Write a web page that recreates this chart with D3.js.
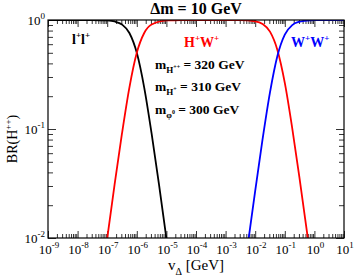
<!DOCTYPE html>
<html>
<head>
<meta charset="utf-8">
<script src="https://cdn.jsdelivr.net/npm/d3@7"></script>
<style>
  body { margin: 0; background: #fff; }
  svg { display: block; font-family: "Liberation Serif", "DejaVu Serif", serif; }
  .tick line { stroke: #000; }
</style>
</head>
<body>
<div id="graph"></div>
<script>
// v_Delta [GeV] vs BR
const llV  = [1e-9, 1e-8, 3.16e-8, 1e-7, 1.78e-7, 3.16e-7, 5.62e-7, 1e-6, 1.78e-6, 3.16e-6, 5.62e-6, 1e-5, 1.78e-5];
const llBR = [1.0, 1.0, 0.999, 0.99, 0.969, 0.909, 0.76, 0.5, 0.24, 0.091, 0.031, 0.0099, 0.0032];

const hwV  = [5.62e-8, 1e-7, 1.78e-7, 3.16e-7, 5.62e-7, 1e-6, 1.78e-6, 3.16e-6, 1e-5, 3.16e-5, 1e-4, 1e-3, 3.16e-3, 1e-2, 1.78e-2, 3.16e-2, 5.62e-2, 0.1, 0.178, 0.316, 0.562, 1];
const hwBR = [0.0032, 0.0099, 0.031, 0.091, 0.24, 0.5, 0.76, 0.909, 0.99, 0.999, 1.0, 1.0, 0.997, 0.973, 0.919, 0.783, 0.532, 0.265, 0.102, 0.035, 0.0113, 0.0036];

const wwV  = [3.16e-3, 5.62e-3, 1e-2, 1.78e-2, 3.16e-2, 5.62e-2, 0.1, 0.178, 0.316, 0.562, 1, 3.16, 10];
const wwBR = [0.0028, 0.0087, 0.027, 0.081, 0.217, 0.468, 0.735, 0.898, 0.965, 0.989, 0.996, 0.9996, 1.0];

const xExp = [-9, -8, -7, -6, -5, -4, -3, -2, -1, 0, 1];
const yExp = [-2, -1, 0];

const width = 354, height = 279;
const m = {left: 48, right: 10, top: 20, bottom: 41};

const x = d3.scaleLog().domain([1e-9, 10]).range([m.left, width - m.right]);
const y = d3.scaleLog().domain([0.01, 1]).range([height - m.bottom, m.top]);

const svg = d3.select('#graph').append('svg')
  .attr('width', width)
  .attr('height', height);

svg.append('clipPath').attr('id', 'clip')
  .append('rect')
  .attr('x', m.left).attr('y', m.top)
  .attr('width', width - m.left - m.right)
  .attr('height', height - m.top - m.bottom);

// minor tick positions
let minorX = [];
for (let e = -9; e < 1; e++) for (let k = 2; k < 10; k++) minorX.push(k * Math.pow(10, e));
let minorY = [];
for (let e = -2; e < 0; e++) for (let k = 2; k < 10; k++) minorY.push(k * Math.pow(10, e));
const majX = xExp.map(e => Math.pow(10, e));
const majY = yExp.map(e => Math.pow(10, e));

function addAxis(gen, tr) {
  const g = svg.append('g').attr('transform', tr).call(gen);
  g.select('.domain').remove();
  g.selectAll('text').remove();
  g.selectAll('line').attr('stroke-width', 0.8);
  return g;
}
const bottom = height - m.bottom, right = width - m.right;
addAxis(d3.axisBottom(x).tickValues(minorX).tickSize(-4), `translate(0,${bottom})`).selectAll('line').attr('stroke', '#555');
addAxis(d3.axisBottom(x).tickValues(majX).tickSize(-7), `translate(0,${bottom})`);
addAxis(d3.axisTop(x).tickValues(minorX).tickSize(-4), `translate(0,${m.top})`).selectAll('line').attr('stroke', '#555');
addAxis(d3.axisTop(x).tickValues(majX).tickSize(-7), `translate(0,${m.top})`);
addAxis(d3.axisLeft(y).tickValues(minorY).tickSize(-5), `translate(${m.left},0)`);
addAxis(d3.axisLeft(y).tickValues(majY).tickSize(-8), `translate(${m.left},0)`);
addAxis(d3.axisRight(y).tickValues(minorY).tickSize(-5), `translate(${right},0)`);
addAxis(d3.axisRight(y).tickValues(majY).tickSize(-8), `translate(${right},0)`);

// tick labels 10^n
svg.append('g').selectAll('text')
  .data(xExp).enter().append('text')
  .attr('x', d => x(Math.pow(10, d)) + 1)
  .attr('y', bottom + 16)
  .attr('text-anchor', 'middle')
  .attr('font-size', 13)
  .each(function(d) {
    const t = d3.select(this);
    t.append('tspan').text('10');
    t.append('tspan').attr('dy', -6).attr('font-size', 9).text(d);
  });

svg.append('g').selectAll('text')
  .data(yExp).enter().append('text')
  .attr('x', m.left - 3)
  .attr('y', d => y(Math.pow(10, d)) + 5)
  .attr('text-anchor', 'end')
  .attr('font-size', 13)
  .each(function(d) {
    const t = d3.select(this);
    t.append('tspan').text('10');
    t.append('tspan').attr('dy', -6).attr('font-size', 9).text(d);
  });

// curves
const line = d3.line().x(d => x(d[0])).y(d => y(d[1])).curve(d3.curveMonotoneX);
const series = [
  {v: llV, br: llBR, c: '#000'},
  {v: hwV, br: hwBR, c: '#ff0000'},
  {v: wwV, br: wwBR, c: '#0000ff'}
];
svg.append('g').attr('clip-path', 'url(#clip)')
  .selectAll('path').data(series).enter().append('path')
  .attr('d', s => line(s.v.map((v, i) => [v, s.br[i]])))
  .attr('fill', 'none')
  .attr('stroke', s => s.c)
  .attr('stroke-width', 1.8);

// frame
svg.append('rect')
  .attr('x', m.left).attr('y', m.top)
  .attr('width', width - m.left - m.right)
  .attr('height', height - m.top - m.bottom)
  .attr('fill', 'none').attr('stroke', '#000').attr('stroke-width', 1.2);

// labels
function supLabel(xp, yp, base, sup, col) {
  const t = svg.append('text').attr('x', xp).attr('y', yp)
    .attr('font-size', 14).attr('font-weight', 'bold').attr('fill', col);
  base.forEach((b, i) => {
    t.append('tspan').attr('dy', i ? 6 : 0).text(b);
    t.append('tspan').attr('dy', -6).attr('font-size', 9).text(sup[i]);
  });
}
supLabel(72, 44, ['l', 'l'], ['+', '+'], '#000');
supLabel(184, 47, ['H', 'W'], ['+', '+'], '#ff0000');
supLabel(291, 47, ['W', 'W'], ['+', '+'], '#0000ff');

const masses = [['H', '++', '= 320 GeV', 69], ['H', '+', '= 310 GeV', 91], ['\u03C6', '0', '= 300 GeV', 114]];
masses.forEach(mm => {
  const t = svg.append('text').attr('x', 155).attr('y', mm[3])
    .attr('font-size', 13.5).attr('font-weight', 'bold');
  t.append('tspan').text('m');
  t.append('tspan').attr('dy', 4).attr('font-size', 9).text(mm[0]);
  t.append('tspan').attr('dy', -4).attr('font-size', 6).text(mm[1]);
  t.append('tspan').attr('dy', 0).text(' ' + mm[2]);
});

svg.append('text').attr('x', 196).attr('y', 14)
  .attr('text-anchor', 'middle').attr('font-size', 16).attr('font-weight', 'bold')
  .text('\u0394m = 10 GeV');

const yl = svg.append('text')
  .attr('transform', 'translate(17,139) rotate(-90)')
  .attr('text-anchor', 'middle').attr('font-size', 14);
yl.append('tspan').text('BR(H');
yl.append('tspan').attr('dy', -6).attr('font-size', 9).text('++');
yl.append('tspan').attr('dy', 6).text(')');

const xl = svg.append('text').attr('x', 196).attr('y', 270)
  .attr('text-anchor', 'middle').attr('font-size', 15);
xl.append('tspan').text('v');
xl.append('tspan').attr('dy', 5).attr('font-size', 10).text('\u0394');
xl.append('tspan').attr('dy', -5).text(' [GeV]');
</script>
</body>
</html>
